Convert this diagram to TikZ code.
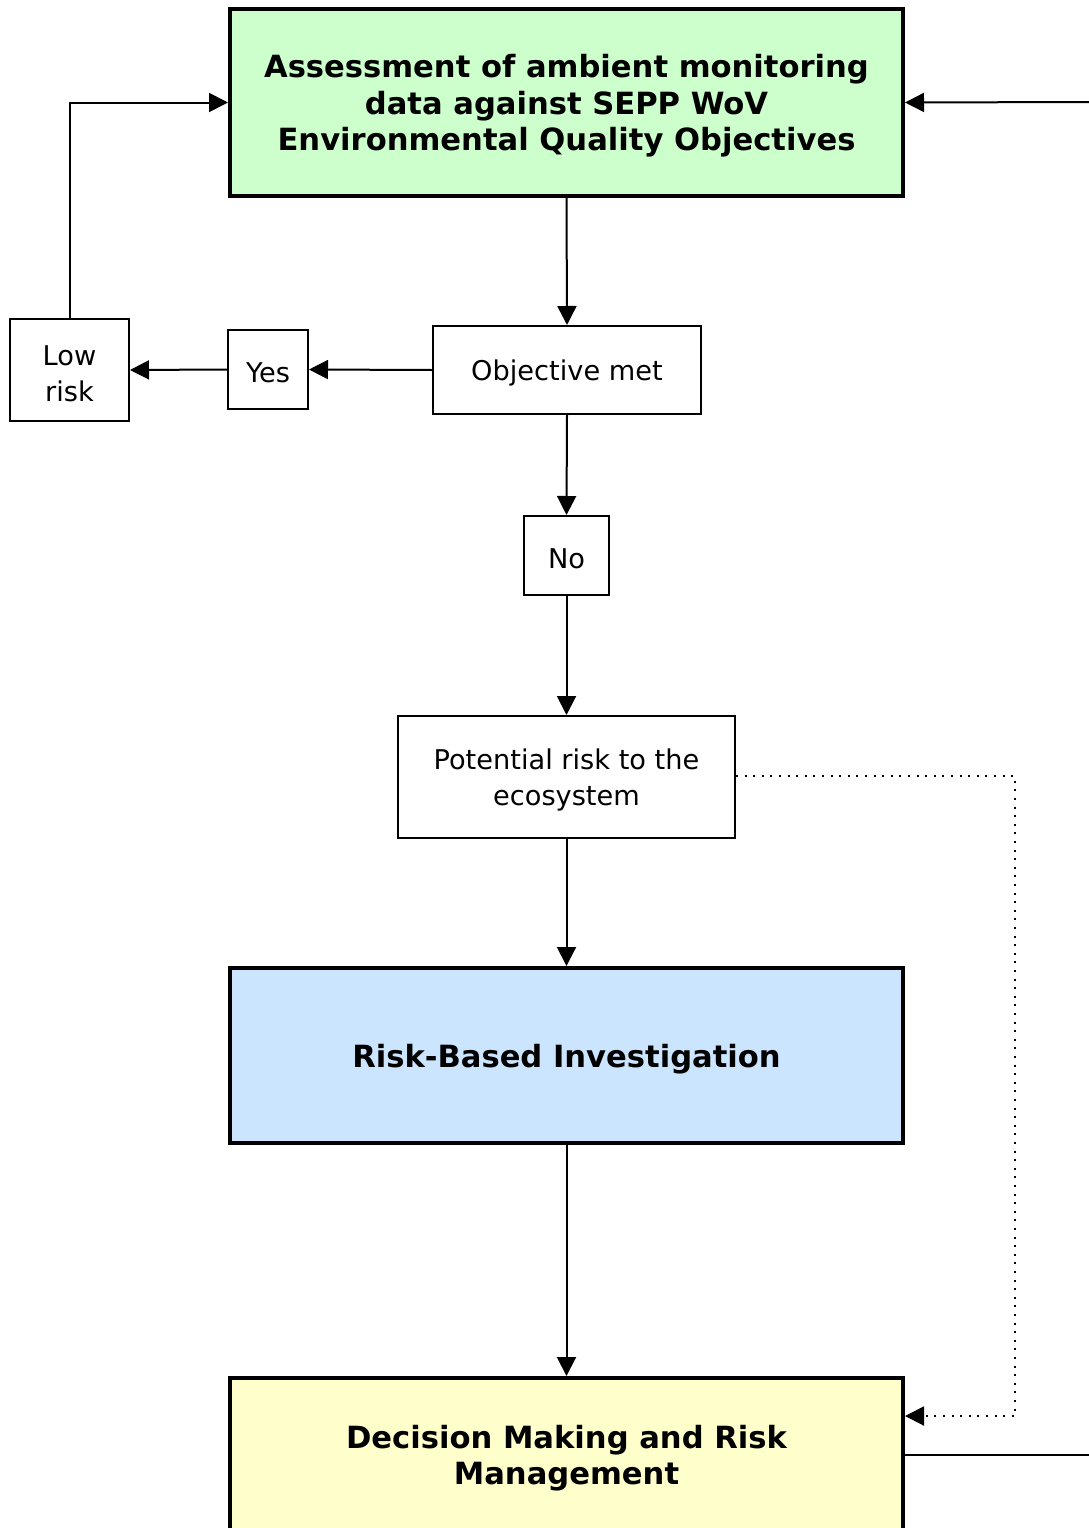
\documentclass[tikz,border=0pt]{standalone}
\usepackage{fontspec}
\setmainfont{DejaVu Sans}
\usetikzlibrary{arrows.meta}
\definecolor{cgreen}{HTML}{CCFFCC}
\definecolor{cblue}{HTML}{CCE5FF}
\definecolor{cyellow}{HTML}{FFFFCC}
\newcommand{\bstrut}{\rule{0pt}{30pt}}
\newcommand{\sstrut}{\rule{0pt}{27pt}}
\begin{document}
\begin{tikzpicture}[x=1pt,y=-1pt,
  bigbox/.style={draw, line width=4pt, minimum width=673pt, inner sep=0pt, align=center, font=\fontsize{30.6}{36.5}\selectfont\bfseries},
  smallbox/.style={draw, line width=2pt, inner sep=0pt, align=center, font=\fontsize{27.2}{36.5}\selectfont},
  arr/.style={line width=2pt, -{Triangle[length=19pt,width=19pt]}},
  ln/.style={line width=2pt},
  dotline/.style={line width=2pt, dash pattern=on 2pt off 6.6pt, -{Triangle[length=19pt,width=19pt]}}
]
\useasboundingbox (0,0) rectangle (1088,1528);
\node[bigbox, fill=cgreen, minimum height=187pt] (assess) at (566.5,102.5) {\bstrut Assessment of ambient monitoring\\data against SEPP WoV\\Environmental Quality Objectives};
\node[smallbox, minimum width=268pt, minimum height=88pt] (obj) at (567,370) {\sstrut Objective met};
\node[smallbox, minimum width=80pt, minimum height=79pt] (yes) at (268,369.5) {\sstrut Yes};
\node[smallbox, minimum width=119pt, minimum height=102pt] (low) at (69.5,370) {\sstrut Low\\risk};
\node[smallbox, minimum width=85pt, minimum height=79pt] (no) at (566.5,555.5) {\sstrut No};
\node[smallbox, minimum width=337pt, minimum height=122pt] (pot) at (566.5,777) {\sstrut Potential risk to the\\ecosystem};
\node[bigbox, fill=cblue, minimum height=175pt] (rbi) at (566.5,1055.5) {\bstrut Risk-Based Investigation};
\node[bigbox, fill=cyellow, minimum height=154pt] (dec) at (566.5,1455) {\bstrut Decision Making and Risk\\Management};
\coordinate (rtop) at (1090,102);
\coordinate (rbot) at (1090,1455);
\draw[arr] (assess.south) -- (obj.north);
\draw[arr] (obj.west) -- (yes.east);
\draw[arr] (yes.west) -- (obj.west -| low.east);
\draw[arr] (low.north) |- (assess.west);
\draw[arr] (obj.south) -- (no.north);
\draw[arr] (no.south) -- (pot.north);
\draw[arr] (pot.south) -- (rbi.north);
\draw[arr] (rbi.south) -- (dec.north);
\draw[arr] (rtop) -- (assess.east);
\draw[ln] (dec.east) -- (rbot);
\draw[dotline] (pot.east |- 0,776) -- (1015,776) -- (1015,1416) -- (dec.east |- 0,1416);
\end{tikzpicture}
\end{document}
